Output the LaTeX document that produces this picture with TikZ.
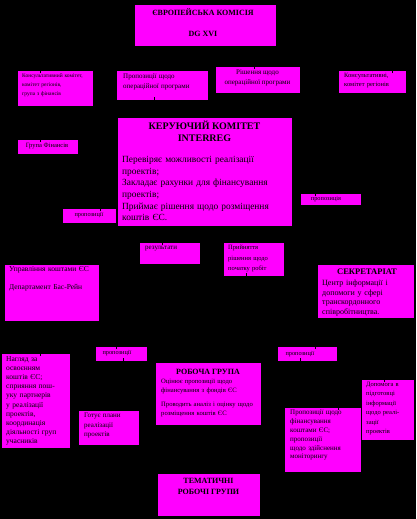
\documentclass[tikz,border=0pt]{standalone}
\usepackage{fontspec}
\setmainfont{Liberation Serif}
\definecolor{mag}{HTML}{FF00FF}
\newcommand{\fz}[2]{\fontsize{#1}{#2}\selectfont}
\newcommand{\bx}[5]{\pgfmathsetmacro\myW{#4-#2}\pgfmathsetmacro\myH{#5-#3}%
  \node[box,minimum width=\myW pt,minimum height=\myH pt] (#1) at ({(#2+#4)/2},{(#3+#5)/2}) {};}
\tikzset{
  box/.style={draw=black, line width=0.6pt, fill=mag, inner sep=0pt, outer sep=0pt},
  txt/.style={anchor=north west, inner sep=0pt, align=left, text=black},
  ttl/.style={anchor=north, inner sep=0pt, align=center, text=black},
  ctr/.style={anchor=center, inner sep=0pt, align=center, text=black},
  conn/.style={draw=black, line width=0.8pt, shorten <=-3pt},
}
\begin{document}
\begin{tikzpicture}[x=1pt,y=-1pt]
\fill[black] (0,0) rectangle (416,519);
\useasboundingbox (0,0) rectangle (416,519);

% boxes
\bx{ec}{134}{4}{276}{46}
\bx{cons1}{17}{70}{93}{106}
\bx{prop1}{116}{70}{208}{100}
\bx{dec1}{215}{66}{300}{93}
\bx{cons2}{338}{70}{406}{93}
\bx{fin}{17}{139}{78}{154}
\bx{ic}{117}{117}{292}{226}
\bx{propL}{62}{208}{116}{223}
\bx{propR}{300}{193}{361}{205}
\bx{res}{139}{242}{200}{264}
\bx{dec2}{223}{242}{284}{276}
\bx{mgmt}{4}{264}{99}{321}
\bx{sec}{317}{264}{414}{318}
\bx{propA}{95}{346}{147}{361}
\bx{over}{1}{353}{70}{448}
\bx{prep}{78}{410}{139}{445}
\bx{wg}{155}{362}{261}{425}
\bx{propB}{277}{346}{337}{361}
\bx{help}{361}{379}{414}{440}
\bx{propC}{284}{407}{361}{472}
\bx{tem}{157}{473}{260}{516}

% texts
\node[ttl, font=\fz{8}{21}\bfseries] (ect) at (203,8) {ЄВРОПЕЙСЬКА КОМІСІЯ\\DG XVI};
\node[txt, text width=72pt, font=\fz{5.5}{9}] (cons1t) at (22,74) {Консультативний комітет,\\комітет регіонів,\\група з фінансів};
\node[txt, text width=86pt, font=\fz{7}{10}] (prop1t) at (123,74) {Пропозиції щодо\\операційної програми};
\node[ttl, font=\fz{7}{10}] (dec1t) at (257.5,70) {Рішення щодо\\операційної програми};
\node[txt, text width=64pt, font=\fz{6.5}{9}] (cons2t) at (344,73) {Консультативні,\\комітет регіонів};
\node[ctr, font=\fz{6.5}{8}] (fint) at (47,146.5) {Група Фінансів};
\node[ttl, font=\fz{10}{11.5}\bfseries] (ictitle) at (204.5,121) {КЕРУЮЧИЙ КОМІТЕТ\\INTERREG};
\node[txt, text width=168pt, font=\fz{9.4}{11.7}] (icbody) at (122,156) {Перевіряє можливості реалізації\\проектів;\\Закладає рахунки для фінансування\\проектів;\\Приймає рішення щодо розміщення\\коштів ЄС.};
\node[ctr, font=\fz{6.3}{7}] (propLt) at (89,215.5) {пропозиції};
\node[ctr, font=\fz{6.3}{7}] (propRt) at (326,199) {пропозиція};
\node[txt, font=\fz{7}{9}] (rest) at (145,246) {результати};
\node[txt, text width=58pt, font=\fz{6.5}{10.5}] (dec2t) at (228,245) {Прийняття\\рішення щодо\\початку робіт};
\node[txt, text width=90pt, font=\fz{7.5}{18}] (mgmtt) at (9,266) {Управління коштами ЄС\\Департамент Бас-Рейн};
\node[ttl, font=\fz{8.5}{9}\bfseries] (sectitle) at (367,269) {СЕКРЕТАРІАТ};
\node[txt, text width=87pt, font=\fz{8}{9.6}] (secbody) at (322,280) {\makebox[87pt][s]{Центр інформації і}\\\makebox[87pt][s]{допомоги у сфері}\\транскордонного\\співробітництва.};
\node[ctr, font=\fz{6.3}{7}] (propAt) at (117,353.5) {пропозиції};
\node[txt, text width=66pt, font=\fz{7.5}{9.2}] (overt) at (6,356) {Нагляд за\\освоєнням\\коштів ЄС;\\сприяння пош-\\уку партнерів\\у реалізації\\проектів,\\координація\\діяльності груп\\учасників};
\node[txt, text width=58pt, font=\fz{7}{9.5}] (prept) at (84,413) {Готує плани\\реалізації\\проектів};
\node[ttl, font=\fz{8}{9}\bfseries] (wgtitle) at (208,369) {РОБОЧА ГРУПА};
\node[txt, text width=100pt, font=\fz{6.6}{9}] (wgbody) at (161,379) {Оцінює пропозиції щодо\\фінансування з фондів ЄС\\[4.5pt]Проводить аналіз і оцінку щодо\\розміщення коштів ЄС};
\node[ctr, font=\fz{6.3}{7}] (propBt) at (300,354) {пропозиції};
\node[txt, text width=50pt, font=\fz{6.5}{9.5}] (helpt) at (366,382) {Допомога в\\підготовці\\інформації\\щодо реалі-\\зації\\проектів};
\node[txt, text width=72pt, font=\fz{7}{8.8}] (propCt) at (290,410) {Пропозиції щодо\\фінансування\\коштами ЄС;\\пропозиції\\щодо здійснення\\моніторингу};
\node[ttl, font=\fz{8}{11}\bfseries] (temt) at (208.5,478) {ТЕМАТИЧНІ\\РОБОЧІ ГРУПИ};

% connectors (black on black: only short ends show)
\draw[conn] ([xshift=-15pt]cons1.north) |- (ec.west);
\draw[conn] ([xshift=-8pt]prop1.south) -- ([xshift=-8pt]prop1.south |- ic.north);
\draw[conn] ([xshift=-3.5pt]dec1.north) -- ([xshift=-3.5pt]dec1.north |- ec.south);
\draw[conn] ([xshift=20pt]cons2.north) |- (ec.east);
\draw[conn] ([xshift=-7.5pt]fin.north) -- ([xshift=-7.5pt]fin.north |- cons1.south);
\draw[conn] ([xshift=11pt]propL.north) |- (fin.east);
\draw[conn] ([xshift=-15.5pt]propR.north) |- (ic.east);
\draw[conn] ([xshift=-7.5pt]res.north) -- ([xshift=-7.5pt]res.north |- ic.south);
\draw[conn] ([xshift=-7.5pt]dec2.south) -- ([xshift=-7.5pt]dec2.south |- wg.north);
\draw[conn] ([xshift=-5pt]propA.north) |- (mgmt.east);
\draw[conn] ([xshift=2pt]propA.south) -- ([xshift=2pt]propA.south |- prep.north);
\draw[conn] ([xshift=4.5pt]over.north) -- ([xshift=4.5pt]over.north |- mgmt.south);
\draw[conn] ([xshift=8pt]propB.north) |- (sec.west);
\draw[conn] ([xshift=-7pt]propB.south) -- ([xshift=-7pt]propB.south |- propC.north);
\draw[conn] ([xshift=15.5pt]propC.north) -- ([xshift=15.5pt]propC.north |- sec.south);
\draw[conn] ([xshift=-3.5pt]help.north) -- ([xshift=-3.5pt]help.north |- sec.south);
\end{tikzpicture}
\end{document}
